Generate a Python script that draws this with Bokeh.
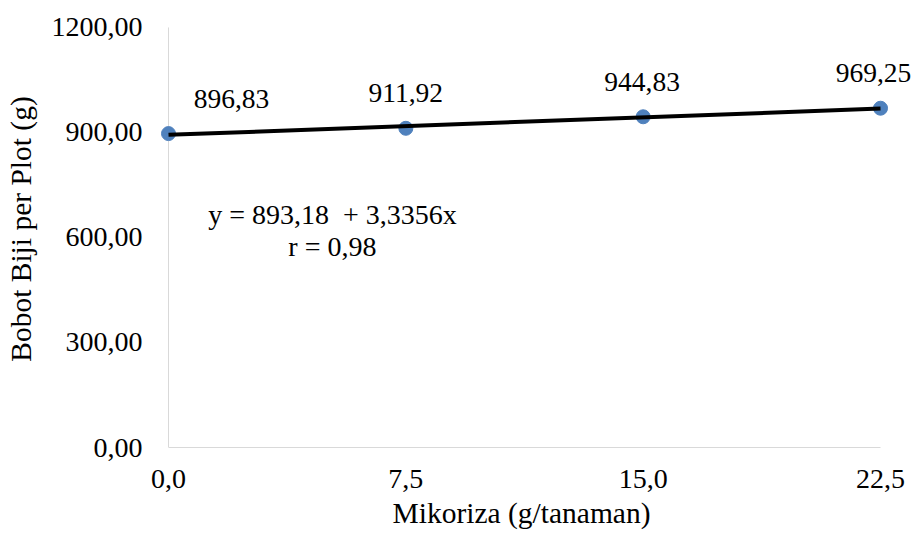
import numpy as np
from bokeh.plotting import figure
from bokeh.models import (ColumnDataSource, LabelSet, Label, FixedTicker, Range1d)
from bokeh.embed import file_html
from bokeh.resources import INLINE

# ---- data ----
mikoriza = [0.0, 7.5, 15.0, 22.5]
bobot = [896.83, 911.92, 944.83, 969.25]
x_ticks = [0.0, 7.5, 15.0, 22.5]
y_ticks = [0, 300, 600, 900, 1200]
x_title = "Mikoriza (g/tanaman)"
y_title = "Bobot Biji per Plot (g)"
r_reported = 0.98

slope, intercept = np.polyfit(mikoriza, bobot, 1)

def fmt(v, d):
    return f"{v:.{d}f}".replace(".", ",")

eq_text = f"y = {fmt(intercept, 2)}\u2002+ {fmt(slope, 4)}x"
r_text = f"r = {fmt(r_reported, 2)}"

# ---- geometry (pixels in the figure) ----
W, H = 911, 531
ax_left, ax_right = 168, 880      # pixel of x=0 and x=22.5
ax_top, ax_bottom = 27, 448       # pixel of y=1200 and y=0
frame_left, frame_right, frame_top = 131, 911, 10
xs = (ax_right - ax_left) / (x_ticks[-1] - x_ticks[0])
ys = (ax_bottom - ax_top) / (y_ticks[-1] - y_ticks[0])
x_start = x_ticks[0] - (ax_left - frame_left) / xs
x_end = x_ticks[-1] + (frame_right - ax_right) / xs
y_end = y_ticks[-1] + (ax_top - frame_top) / ys

FONT = "'Liberation Serif', 'Times New Roman', serif"
AXIS_GRAY = "#d9d9d9"
TXT = "#000000"

p = figure(width=W, height=H, output_backend="svg", toolbar_location=None,
           x_range=Range1d(x_start, x_end), y_range=Range1d(y_ticks[0], y_end),
           min_border_left=frame_left, min_border_right=W - frame_right,
           min_border_top=frame_top, min_border_bottom=H - ax_bottom)
p.outline_line_color = None
p.grid.visible = False
p.background_fill_color = "white"
p.border_fill_color = "white"

# axes
p.xaxis.ticker = FixedTicker(ticks=x_ticks)
p.xaxis.major_label_overrides = {t: fmt(t, 1) for t in x_ticks}
p.yaxis.ticker = FixedTicker(ticks=y_ticks)
p.yaxis.major_label_overrides = {t: fmt(t, 2) for t in y_ticks}
for ax in (p.xaxis, p.yaxis):
    ax.major_tick_in = 0
    ax.major_tick_out = 0
    ax.minor_tick_in = 0
    ax.minor_tick_out = 0
    ax.major_label_text_font = FONT
    ax.major_label_text_font_size = "28px"
    ax.major_label_text_color = TXT
    ax.axis_label_text_font = FONT
    ax.axis_label_text_font_size = "29.5px"
    ax.axis_label_text_font_style = "normal"
    ax.axis_label_text_color = TXT
p.xaxis.axis_label = x_title
p.yaxis.axis_label = y_title
p.xaxis.axis_line_color = AXIS_GRAY
p.xaxis.bounds = (x_ticks[0], x_ticks[-1])
p.xaxis.major_label_standoff = 22
p.xaxis.axis_label_standoff = 6
p.yaxis.axis_line_color = None
p.yaxis.major_label_standoff = -11
p.yaxis.axis_label_standoff = 12

# y axis line at x = 0
p.segment(x0=[x_ticks[0]], y0=[y_ticks[0]], x1=[x_ticks[0]], y1=[y_ticks[-1]],
          line_color=AXIS_GRAY, line_width=1)

# points and trend line
src = ColumnDataSource(dict(
    x=mikoriza, y=bobot, label=[fmt(v, 2) for v in bobot],
    dx=[63, 0, -1, -7]))
p.scatter("x", "y", source=src, size=14, fill_color="#4F81BD",
          line_color="#4F81BD")
tx = [mikoriza[0], mikoriza[-1]]
ty = [intercept + slope * v for v in tx]
p.line(tx, ty, line_color="black", line_width=4)

p.add_layout(LabelSet(x="x", y="y", text="label", source=src,
                      x_offset="dx", y_offset=35,
                      text_align="center", text_baseline="middle",
                      text_font=FONT, text_font_size="27.5px", text_color=TXT))

p.add_layout(Label(x=5.18, y=667, text=eq_text, text_align="center",
                   text_baseline="middle", text_font=FONT,
                   text_font_size="28px", text_color=TXT))
p.add_layout(Label(x=5.18, y=573, text=r_text, text_align="center",
                   text_baseline="middle", text_font=FONT,
                   text_font_size="28px", text_color=TXT))

open("out.html", "w").write(file_html(p, INLINE))
